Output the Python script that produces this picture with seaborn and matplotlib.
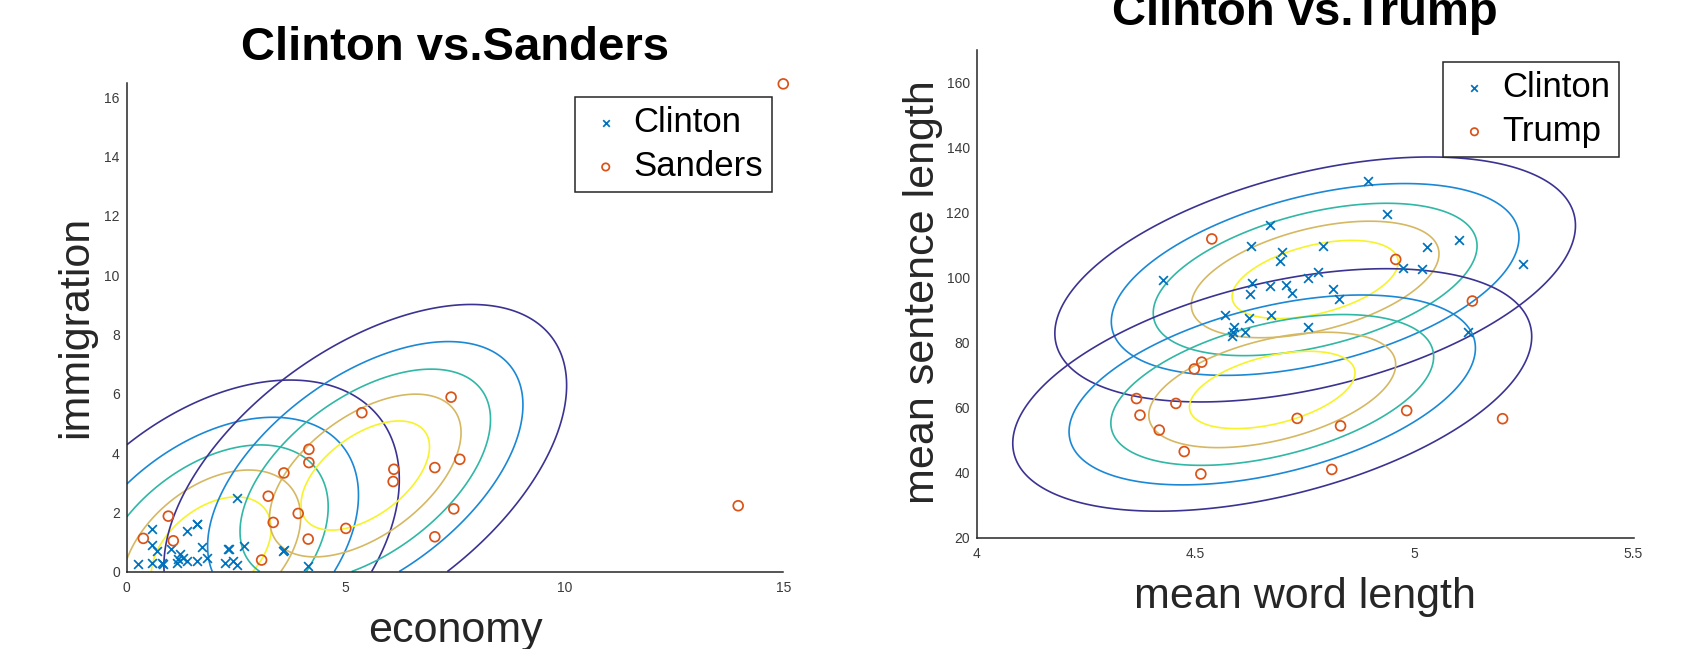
import numpy as np
import pandas as pd
import matplotlib
matplotlib.use("Agg")
import matplotlib.pyplot as plt
import seaborn as sns

# ---------------- Left panel: Clinton vs. Sanders ----------------
cs_clinton_econ = [0.265, 0.585, 0.585, 0.685, 0.585, 0.799, 0.836, 1.011, 1.142, 1.217,
                   1.178, 1.279, 1.384, 1.370, 1.598, 1.605, 1.612, 1.712, 1.826, 2.244,
                   2.320, 2.330, 2.420, 2.525, 2.511, 2.685, 3.575, 3.585, 4.146]
cs_clinton_immig = [0.242, 1.431, 0.892, 0.690, 0.296, 0.276, 0.242, 0.747, 0.276, 0.589,
                    0.411, 0.444, 0.364, 1.364, 1.599, 1.620, 0.364, 0.815, 0.444, 0.276,
                    0.758, 0.775, 0.364, 0.219, 2.498, 0.859, 0.700, 0.720, 0.195]
cs_sanders_econ = [0.379, 0.950, 1.064, 3.082, 3.233, 3.347, 3.918, 3.591, 4.162, 4.162,
                   4.146, 5.007, 5.372, 6.103, 6.087, 7.039, 7.411, 7.610, 7.473, 7.039,
                   13.97, 15.0]
cs_sanders_immig = [1.118, 1.869, 1.037, 0.387, 2.542, 1.657, 1.960, 3.327, 4.125, 3.677,
                    1.094, 1.455, 5.360, 3.451, 3.037, 3.508, 5.886, 3.788, 2.114, 1.172,
                    2.220, 16.46]

# fitted Gaussians (mean, std devs, correlation)
cs_clinton_mean = [1.93, 0.67]
cs_clinton_sd = [2.27, 3.06]
cs_clinton_rho = 0.42
cs_sanders_mean = [5.45, 3.24]
cs_sanders_sd = [2.43, 3.05]
cs_sanders_rho = 0.527

cs_xticks = [0, 5, 10, 15]
cs_xticklabels = ["0", "5", "10", "15"]
cs_yticks = [0, 2, 4, 6, 8, 10, 12, 14, 16]
cs_yticklabels = ["0", "2", "4", "6", "8", "10", "12", "14", "16"]

# ---------------- Right panel: Clinton vs. Trump ----------------
ct_clinton_word = [4.894, 4.671, 4.626, 4.697, 4.693, 4.792, 4.425, 4.629, 4.670, 4.706,
                   4.719, 4.624, 4.757, 4.780, 4.813, 4.827, 4.568, 4.623, 4.672, 4.588,
                   4.586, 4.584, 4.613, 4.756, 4.936, 5.028, 5.102, 4.973, 5.018, 5.248,
                   5.123]
ct_clinton_sent = [129.7, 116.2, 109.6, 108.0, 105.2, 109.6, 99.3, 98.4, 97.4, 97.7,
                   95.4, 95.0, 100.0, 101.6, 96.4, 93.3, 88.5, 87.7, 88.5, 84.7,
                   83.2, 82.0, 83.2, 84.9, 119.5, 109.5, 111.6, 102.9, 102.7, 104.1,
                   83.2]
ct_trump_word = [4.537, 4.957, 5.132, 4.982, 5.201, 4.514, 4.497, 4.365, 4.455, 4.373,
                 4.417, 4.474, 4.512, 4.732, 4.831, 4.811]
ct_trump_sent = [111.9, 105.6, 92.8, 59.1, 56.6, 74.0, 71.9, 62.8, 61.3, 57.7,
                 53.1, 46.5, 39.6, 56.7, 54.4, 41.0]

ct_clinton_mean = [4.773, 99.43]
ct_clinton_sd = [0.314, 19.9]
ct_clinton_rho = 0.44
ct_trump_mean = [4.675, 65.45]
ct_trump_sd = [0.313, 19.7]
ct_trump_rho = 0.44

ct_xticks = [4, 4.5, 5, 5.5]
ct_xticklabels = ["4", "4.5", "5", "5.5"]
ct_yticks = [20, 40, 60, 80, 100, 120, 140, 160]
ct_yticklabels = ["20", "40", "60", "80", "100", "120", "140", "160"]

# contour levels as fractions of the peak density, and their colours (parula)
level_fractions = [1 / 6, 2 / 6, 3 / 6, 4 / 6, 5 / 6]
level_colors = ["#3b3391", "#1b88d6", "#30b7a5", "#d6b862", "#f7f32a"]

blue = "#0072BD"
orange = "#D95319"
axcol = "#262626"

sns.set_theme(style="white")
plt.rcParams["font.family"] = ["Liberation Sans", "DejaVu Sans"]

fig = plt.figure(figsize=(16.83, 6.49), dpi=100)
axL = fig.add_axes([0.0753, 0.1194, 0.3901, 0.7532])
axR = fig.add_axes([0.5803, 0.1715, 0.3903, 0.7514])


def gauss_contour(ax, mean, sd, rho, xlim, ylim):
    gx = np.linspace(xlim[0], xlim[1], 500)
    gy = np.linspace(ylim[0], ylim[1], 500)
    X, Y = np.meshgrid(gx, gy)
    u = (X - mean[0]) / sd[0]
    v = (Y - mean[1]) / sd[1]
    q = (u ** 2 - 2 * rho * u * v + v ** 2) / (1 - rho ** 2)
    Z = np.exp(-0.5 * q)
    ax.contour(X, Y, Z, levels=level_fractions, colors=level_colors,
               linewidths=1.2, zorder=2)


def style_axes(ax, xlim, ylim, xt, xtl, yt, ytl):
    ax.set_xlim(*xlim)
    ax.set_ylim(*ylim)
    ax.set_xticks(xt)
    ax.set_xticklabels(xtl)
    ax.set_yticks(yt)
    ax.set_yticklabels(ytl)
    for s in ["top", "right"]:
        ax.spines[s].set_visible(False)
    for s in ["left", "bottom"]:
        ax.spines[s].set_color(axcol)
        ax.spines[s].set_linewidth(1.1)
    ax.tick_params(axis="both", direction="in", length=6, width=1.0,
                   color=axcol, labelcolor="#3a3a3a", labelsize=10)
    ax.tick_params(axis="x", pad=7)
    ax.tick_params(axis="y", pad=5)


def scatter_pair(ax, x1, y1, x2, y2, lab1, lab2):
    sns.scatterplot(x=x1, y=y1, marker="x", color=blue, s=40, linewidth=1.25,
                    label=lab1, ax=ax, clip_on=False, zorder=4)
    sns.scatterplot(x=x2, y=y2, marker="o", color=orange, facecolor="none",
                    edgecolor=orange, s=50, linewidth=1.25, label=lab2, ax=ax,
                    clip_on=False, zorder=4)


# ---- left ----
L_xlim, L_ylim = (0, 15), (0, 16.5)
gauss_contour(axL, cs_clinton_mean, cs_clinton_sd, cs_clinton_rho, L_xlim, L_ylim)
gauss_contour(axL, cs_sanders_mean, cs_sanders_sd, cs_sanders_rho, L_xlim, L_ylim)
scatter_pair(axL, cs_clinton_econ, cs_clinton_immig, cs_sanders_econ, cs_sanders_immig,
             "Clinton", "Sanders")
style_axes(axL, L_xlim, L_ylim, cs_xticks, cs_xticklabels, cs_yticks, cs_yticklabels)

# ---- right ----
R_xlim, R_ylim = (4, 5.5), (20, 170)
gauss_contour(axR, ct_clinton_mean, ct_clinton_sd, ct_clinton_rho, R_xlim, R_ylim)
gauss_contour(axR, ct_trump_mean, ct_trump_sd, ct_trump_rho, R_xlim, R_ylim)
scatter_pair(axR, ct_clinton_word, ct_clinton_sent, ct_trump_word, ct_trump_sent,
             "Clinton", "Trump")
style_axes(axR, R_xlim, R_ylim, ct_xticks, ct_xticklabels, ct_yticks, ct_yticklabels)

# titles and labels
axL.set_title("Clinton vs.Sanders", fontsize=34, fontweight="bold", pad=16.5, color="black")
axR.set_title("Clinton vs.Trump", fontsize=34, fontweight="bold", pad=18, color="black")

lab_kw = dict(fontsize=31, color=axcol)
axL.set_xlabel("economy", **lab_kw)
axL.set_ylabel("immigration", **lab_kw)
axR.set_xlabel("mean word length", **lab_kw)
axR.set_ylabel("mean sentence length", **lab_kw)
for ax, xl, yl in [(axL, (0.5, -0.122), (-0.0772, 0.50)),
                   (axR, (0.5, -0.122), (-0.0817, 0.504))]:
    ax.xaxis.set_label_coords(*xl)
    ax.yaxis.set_label_coords(*yl)
    ax.xaxis.label.set_verticalalignment("center")
    ax.yaxis.label.set_verticalalignment("center")

leg_kw = dict(loc="upper right", borderaxespad=0, fontsize=25, frameon=True,
              fancybox=False, framealpha=1, edgecolor=axcol, borderpad=0.26,
              labelspacing=0.31, handlelength=1.27, handletextpad=0.16,
              markerscale=0.75, scatterpoints=1)
legL = axL.legend(bbox_to_anchor=(0.9828, 0.9701), **leg_kw)
legR = axR.legend(bbox_to_anchor=(0.978, 0.9753), **leg_kw)
for leg in (legL, legR):
    leg.get_frame().set_linewidth(1.1)
    for t in leg.get_texts():
        t.set_color("black")

fig.savefig("out.png", dpi=100, facecolor="white")
